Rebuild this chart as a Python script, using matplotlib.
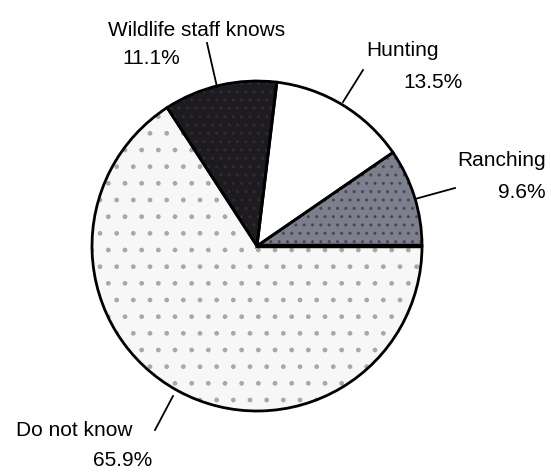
import matplotlib.pyplot as plt

labels = ["Ranching", "Hunting", "Wildlife staff knows", "Do not know"]
shares = [9.6, 13.5, 11.1, 65.9]
pct_labels = ["9.6%", "13.5%", "11.1%", "65.9%"]

face_colors = ["#7d7f8c", "#ffffff", "#1d1b1f", "#f7f7f7"]
hatch_colors = ["#45475a", "#ffffff", "#2e2c33", "#a8a8a8"]
hatches = ["..", None, "..", "."]

H = 472

def py(y):
    # convert pixel row (from top) to data y
    return H - y

plt.rcParams["font.family"] = ["Liberation Sans", "DejaVu Sans"]

fig = plt.figure(figsize=(5.51, 4.72), dpi=100)
ax = fig.add_axes([0, 0, 1, 1])

center = (257, py(246))
radius = 165

# textured fill
wedges, _ = ax.pie(shares, startangle=0, counterclock=True, center=center,
                   radius=radius, colors=face_colors,
                   wedgeprops=dict(linewidth=0), frame=True)
for w, h, hc in zip(wedges, hatches, hatch_colors):
    if h:
        w.set_hatch(h)
        w.set_edgecolor(hc)
        w.set_linewidth(0)

# outlines on top
ax.pie(shares, startangle=0, counterclock=True, center=center,
       radius=radius, colors=["none"] * 4,
       wedgeprops=dict(linewidth=2, edgecolor="black", fill=False),
       frame=True)
ax.set_xlim(0, 551)
ax.set_ylim(0, H)
ax.set_aspect("equal")
ax.axis("off")

# heavier edge between Ranching and Do not know
ax.plot([center[0], center[0] + radius], [center[1], center[1]], color="black", lw=3.2,
        solid_capstyle="butt")

fs = 15
# label text and leader lines
ax.text(197, py(30), labels[2], ha="center", va="center", fontsize=fs)
ax.text(151, py(58), pct_labels[2], ha="center", va="center", fontsize=fs)
ax.plot([207, 217], [py(43), py(87)], color="black", lw=1.3)

ax.text(402, py(50), labels[1], ha="center", va="center", fontsize=fs)
ax.text(433, py(82), pct_labels[1], ha="center", va="center", fontsize=fs)
ax.plot([363, 343], [py(70), py(102)], color="black", lw=1.3)

ax.text(502, py(161), labels[0], ha="center", va="center", fontsize=fs)
ax.text(522, py(192), pct_labels[0], ha="center", va="center", fontsize=fs)
ax.plot([415, 455], [py(199), py(188)], color="black", lw=1.3)

ax.text(74, py(431), labels[3], ha="center", va="center", fontsize=fs)
ax.text(123, py(460), pct_labels[3], ha="center", va="center", fontsize=fs)
ax.plot([155, 173], [py(430), py(396)], color="black", lw=1.3)

fig.savefig("out.png", dpi=100)
